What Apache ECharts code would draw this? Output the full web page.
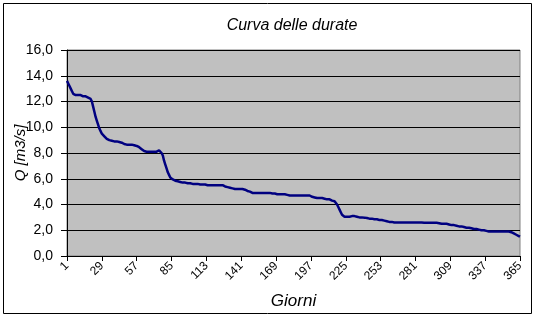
<!DOCTYPE html>
<html>
<head>
<meta charset="utf-8">
<script src="https://cdn.jsdelivr.net/npm/echarts@6/dist/echarts.min.js"></script>
<style>
html,body{margin:0;padding:0;background:#fff;}
#chart{width:540px;height:322px;}
</style>
</head>
<body>
<div id="chart"></div>
<script>
// Title and axis names
var chartTitle = 'Curva delle durate';
var xName = 'Giorni';
var yName = 'Q [m3/s]';

// Categories: days 1..365
var days = [];
for (var d = 1; d <= 365; d++) days.push(String(d));

// Flow values (m3/s), days 1-35
var flowA = [13.6,13.4,13.2,13.0,12.8,12.6,12.5,
  12.5,12.5,12.5,12.5,12.5,12.5,12.4,12.4,12.4,
  12.4,12.3,12.3,12.2,12.0,
  11.6,11.2,10.8,10.5,10.2,9.9,9.7,9.5,9.4,9.3,9.2,9.1,9.0,9.0];
// days 36-63
var flowB = [8.95,8.95,8.9,8.9,8.9,8.9,8.9,
  8.85,8.8,8.8,8.7,
  8.7,8.65,8.65,8.65,8.65,8.65,8.65,8.65,8.6,8.6,
  8.55,8.5,8.45,8.4,8.3,8.2,8.15];
// days 64-89
var flowC = [8.1,8.1,8.1,8.1,8.1,8.1,8.1,8.1,8.1,8.1,
  8.15,8.2,8.2,8.0,7.8,7.4,7.1,6.8,6.5,6.3,6.1,6.0,5.95,5.9,5.85,5.8];
// days 90-126
var flowD = [5.8,5.75,5.75,5.75,5.7,5.7,5.7,5.7,
  5.65,5.65,5.65,5.65,5.6,5.6,5.6,5.6,5.6,
  5.55,5.55,5.55,5.55,5.55,5.55,
  5.5,5.5,5.5,5.5,5.5,5.5,5.5,5.5,5.5,5.5,5.5,5.5,5.5,5.5];
// days 127-164
var flowE = [5.45,5.4,5.4,5.35,
  5.3,5.3,5.25,5.25,
  5.2,5.2,5.2,5.2,5.2,5.2,5.2,5.2,5.2,
  5.15,5.1,5.05,5.0,5.0,
  4.95,4.9,4.9,4.9,4.9,4.9,4.9,4.9,4.9,4.9,4.9,4.9,4.9,4.9,4.9,4.9];
// days 165-216
var flowF = [4.85,4.85,4.85,4.85,
  4.8,4.8,4.8,4.8,4.8,4.8,4.8,4.8,
  4.75,4.75,4.7,4.7,
  4.7,4.7,4.7,4.7,4.7,4.7,4.7,4.7,4.7,4.7,4.7,4.7,4.7,4.7,4.7,4.7,
  4.65,4.6,4.55,4.55,
  4.5,4.5,4.5,4.5,4.5,4.5,4.5,
  4.45,4.45,4.4,4.4,4.4,
  4.35,4.3,4.3,4.25];
// days 217-267
var flowG = [4.2,4.0,3.8,3.6,3.4,3.2,3.1,3.05,
  3.05,3.05,3.05,3.05,3.05,
  3.1,3.1,3.1,3.05,
  3.05,3.0,3.0,3.0,3.0,3.0,2.98,
  2.95,2.95,2.95,2.9,2.9,2.9,2.9,
  2.85,2.85,2.85,2.8,2.8,2.8,2.8,
  2.75,2.75,2.7,2.7,2.7,2.65,2.65,
  2.65,2.6,2.6,2.6,2.6,2.6];
// days 268-298
var flowH = [2.6,2.6,2.6,2.6,2.6,2.6,2.6,2.6,2.6,2.6,
  2.6,2.6,2.6,2.6,2.6,2.6,2.6,2.6,2.6,2.6,
  2.58,2.58,2.58,2.58,2.58,2.58,2.58,2.58,2.58,2.58,2.58];
// days 299-365
var flowI = [2.55,2.55,2.5,2.5,
  2.5,2.5,2.5,2.5,2.45,2.45,2.45,
  2.4,2.4,2.4,2.35,2.35,2.35,2.3,2.3,
  2.3,2.25,2.25,2.25,2.2,2.2,2.2,2.2,
  2.15,2.15,2.1,2.1,2.1,2.05,2.05,2.05,
  2.0,2.0,2.0,1.95,1.95,1.95,1.9,1.9,
  1.9,1.9,1.9,1.9,1.9,1.9,1.9,1.9,1.9,1.9,1.9,1.9,1.9,1.9,1.9,1.9,
  1.85,1.8,1.75,1.7,1.65,1.6,1.55,1.5];

var flow = [].concat(flowA, flowB, flowC, flowD, flowE, flowF, flowG, flowH, flowI);

var FONT = 'Liberation Sans, Arial, sans-serif';
var chart = echarts.init(document.getElementById('chart'), null, {renderer: 'canvas'});
chart.setOption({
  animation: false,
  backgroundColor: '#ffffff',
  graphic: [{
    type: 'rect', silent: true,
    shape: {x: 3.5, y: 3.5, width: 528, height: 310},
    style: {fill: 'none', stroke: '#000', lineWidth: 1}
  }, {
    type: 'text', silent: true,
    x: 292, y: 26,
    style: {
      text: chartTitle, fill: '#000',
      font: 'italic 16px Liberation Sans, Arial, sans-serif',
      align: 'center', verticalAlign: 'middle'
    }
  }],
  grid: {
    left: 67, top: 50, right: 20, bottom: 66,
    containLabel: false,
    outerBoundsMode: 'none',
    show: true, backgroundColor: '#C0C0C0', borderColor: '#808080', borderWidth: 1
  },
  xAxis: {
    type: 'category',
    data: days,
    boundaryGap: false,
    name: xName,
    nameLocation: 'middle',
    nameGap: 37,
    nameMoveOverlap: false,
    nameTextStyle: {fontFamily: FONT, fontSize: 17, fontStyle: 'italic', color: '#000'},
    axisLine: {lineStyle: {color: '#000', width: 1}},
    axisTick: {show: true, interval: 27, length: 5, lineStyle: {color: '#000'}},
    axisLabel: {interval: 27, rotate: 45, margin: 8, fontFamily: FONT, fontSize: 12, color: '#000'},
    splitLine: {show: false}
  },
  yAxis: {
    type: 'value',
    min: 0, max: 16, interval: 2,
    name: yName,
    nameLocation: 'middle',
    nameGap: 39,
    nameMoveOverlap: false,
    nameTextStyle: {fontFamily: FONT, fontSize: 15, fontStyle: 'italic', color: '#000'},
    axisLine: {show: true, lineStyle: {color: '#000', width: 1}},
    axisTick: {show: true, length: 6, lineStyle: {color: '#000'}},
    axisLabel: {
      margin: 14, fontFamily: FONT, fontSize: 14, color: '#000',
      formatter: function (v) { return v.toFixed(1).replace('.', ','); }
    },
    splitLine: {show: true, lineStyle: {color: '#000', width: 1}}
  },
  series: [{
    type: 'line',
    data: flow,
    showSymbol: false,
    symbol: 'none',
    lineStyle: {color: '#000080', width: 2.5},
    itemStyle: {color: '#000080'}
  }]
});
</script>
</body>
</html>
